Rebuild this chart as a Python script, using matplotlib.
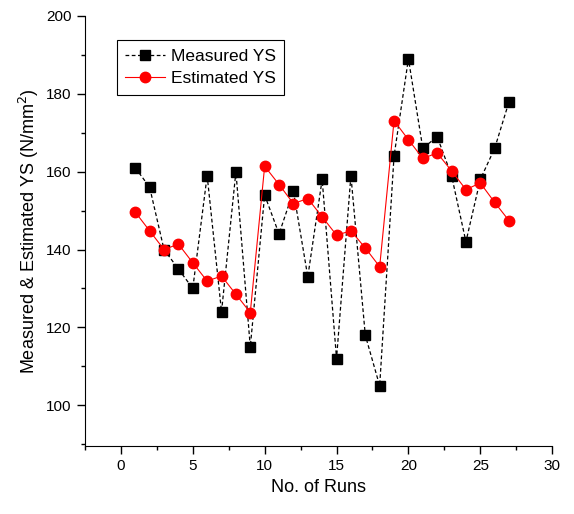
import matplotlib
matplotlib.use('Agg')
from matplotlib import pyplot as plt
from matplotlib.ticker import MultipleLocator

plt.rcParams['font.family'] = ['Liberation Sans', 'DejaVu Sans']

runs = list(range(1, 28))
measured_ys = [161, 156, 140, 135, 130, 159, 124, 160, 115, 154, 144, 155, 133, 158,
               112, 159, 118, 105, 164, 189, 166, 169, 159, 142, 158, 166, 178]
estimated_ys = [149.6, 144.8, 140, 141.4, 136.6, 131.9, 133.2, 128.5, 123.8, 161.4,
                156.7, 151.8, 153.1, 148.4, 143.7, 144.8, 140.4, 135.6, 173.1, 168.2,
                163.4, 164.8, 160.2, 155.4, 157.1, 152.1, 147.4]

fig = plt.figure(figsize=(5.74, 5.14), dpi=100)
ax = fig.add_axes([0.148, 0.132, 0.814, 0.837])

ax.plot(runs, measured_ys, color='black', linestyle=(0, (3, 2)), linewidth=0.9,
        marker='s', markersize=7, label='Measured YS')
ax.plot(runs, estimated_ys, color='red', linestyle='-', linewidth=0.8,
        marker='o', markersize=7.5, label='Estimated YS')

ax.set_xlim(-2.5, 30)
ax.set_ylim(89.5, 200)
ax.xaxis.set_major_locator(MultipleLocator(5))
ax.xaxis.set_minor_locator(MultipleLocator(2.5))
ax.yaxis.set_major_locator(MultipleLocator(20))
ax.yaxis.set_minor_locator(MultipleLocator(10))
ax.spines['top'].set_visible(False)
ax.spines['right'].set_visible(False)
ax.tick_params(which='major', direction='out', length=6, width=1, labelsize=11)
ax.tick_params(which='minor', direction='out', length=3, width=1)

ax.set_xlabel('No. of Runs', fontsize=13)
ax.set_ylabel('Measured & Estimated YS (N/mm$^2$)', fontsize=13)

leg = ax.legend(loc='upper left', bbox_to_anchor=(0.068, 0.944), borderaxespad=0,
                fontsize=12.5, fancybox=False, edgecolor='black', framealpha=1,
                handlelength=2.3, borderpad=0.5, labelspacing=0.4, handletextpad=0.3)
leg.get_frame().set_linewidth(0.8)

plt.savefig('out.png', dpi=100)
